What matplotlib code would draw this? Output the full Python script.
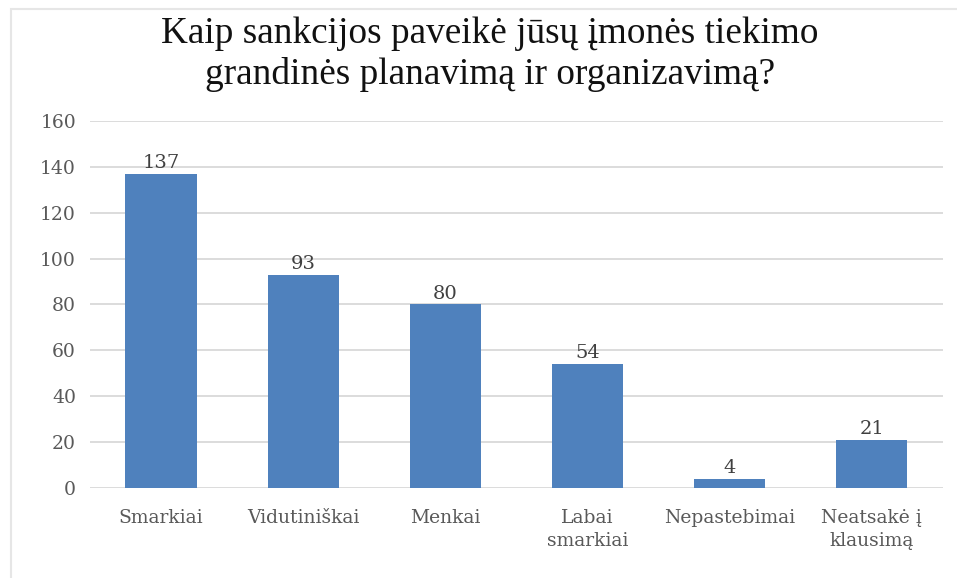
import matplotlib
matplotlib.use("Agg", force=True)
import matplotlib.pyplot as plt
from matplotlib.patches import Rectangle

# data
categories = ["Smarkiai", "Vidutiniškai", "Menkai", "Labai\nsmarkiai",
              "Nepastebimai", "Neatsakė į\nklausimą"]
counts = [137, 93, 80, 54, 4, 21]
y_ticks = [0, 20, 40, 60, 80, 100, 120, 140, 160]
title = "Kaip sankcijos paveikė jūsų įmonės tiekimo\ngrandinės planavimą ir organizavimą?"

bar_color = "#4f81bd"
grid_color = "#d9d9d9"
text_gray = "#595959"
label_font = "DejaVu Serif"

fig = plt.figure(figsize=(9.57, 5.78), dpi=100, facecolor="white")

# light chart border
fig.add_artist(Rectangle((11 / 957, -0.05), 1.2, 1.05 - 9 / 578,
                         transform=fig.transFigure, facecolor="none",
                         edgecolor="#e6e6e6", lw=1.5))

ax = fig.add_axes([0.094, 0.1557, 0.891, 0.635])
x = range(len(categories))
bars = ax.bar(x, counts, width=0.5, color=bar_color, zorder=3)

ax.set_xlim(-0.5, len(categories) - 0.5)
ax.set_ylim(0, 160)
ax.set_yticks(y_ticks)
ax.set_xticks(list(x))
ax.set_xticklabels(categories, fontsize=13.5, color=text_gray,
                   family=label_font, linespacing=1.35)
for lab in ax.get_yticklabels():
    lab.set_fontsize(13.5)
    lab.set_color(text_gray)
    lab.set_family(label_font)

ax.tick_params(axis="both", length=0)
ax.tick_params(axis="y", pad=10)
ax.tick_params(axis="x", pad=15)
ax.grid(axis="y", color=grid_color, lw=1.3, zorder=0)
for s in ax.spines.values():
    s.set_visible(False)

for rect, v in zip(bars, counts):
    ax.text(rect.get_x() + rect.get_width() / 2, v + 0.8, str(v),
            ha="center", va="bottom", fontsize=14, color="#404040",
            family=label_font)

fig.text(0.512, 0.906, title, ha="center", va="center", fontsize=26.8,
         family="Liberation Serif", color="#111111", linespacing=1.25)

fig.savefig("out.png", dpi=100, facecolor="white")
